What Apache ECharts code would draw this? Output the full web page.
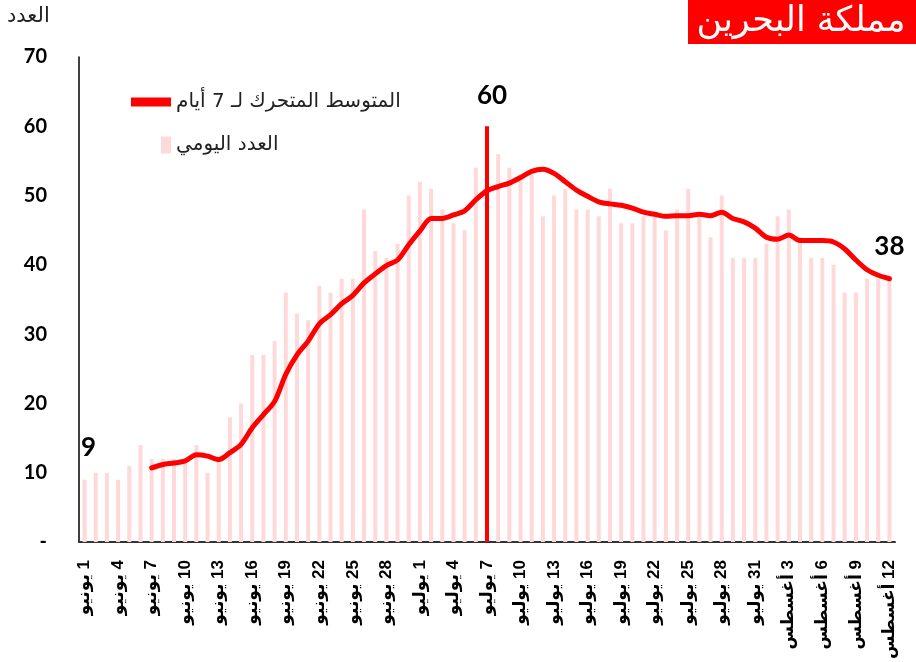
<!DOCTYPE html>
<html>
<head>
<meta charset="utf-8">
<script src="https://cdn.jsdelivr.net/npm/echarts@6/dist/echarts.min.js"></script>
<style>
  html, body { margin: 0; padding: 0; background: #fff; }
  #chart { width: 916px; height: 662px; }
</style>
</head>
<body>
<div id="chart"></div>
<script>
  // أسماء الأشهر وعدد الأيام المعروضة
  var monthNames = ['يونيو', 'يوليو', 'أغسطس']
  var monthDays = [30, 31, 12]

  // العدد اليومي
  var dailyJune = [9, 10, 10, 9, 11, 14, 12, 12, 12, 12, 14, 10, 12, 18, 20, 27, 27, 29, 36, 33, 32, 37, 36, 38, 38, 48, 42, 41, 43, 50]
  var dailyJuly = [52, 51, 48, 46, 45, 54, 60, 56, 54, 53, 53, 47, 50, 51, 48, 48, 47, 51, 46, 46, 47, 47, 45, 48, 51, 47, 44, 50, 41, 41, 41]
  var dailyAug = [43, 47, 48, 44, 41, 41, 40, 36, 36, 38, 38, 38]

  // المتوسط المتحرك لـ 7 أيام (يبدأ من 7 يونيو)
  var avgJune = [null, null, null, null, null, null, 10.7, 11.2, 11.4, 11.7, 12.6, 12.4, 11.9, 12.9, 14.1, 16.5, 18.4, 20.3, 24.2, 27.0, 29.0, 31.5, 32.8, 34.4, 35.6, 37.4, 38.7, 39.9, 40.7, 42.9]
  var avgJuly = [44.9, 46.7, 46.7, 47.2, 47.8, 49.4, 50.7, 51.3, 51.8, 52.6, 53.5, 53.8, 53.2, 52.0, 50.8, 49.9, 49.1, 48.8, 48.6, 48.2, 47.6, 47.3, 47.0, 47.1, 47.1, 47.3, 47.1, 47.6, 46.7, 46.2, 45.3]
  var avgAug = [44.0, 43.7, 44.3, 43.5, 43.5, 43.5, 43.3, 42.3, 40.7, 39.3, 38.5, 38.0]

  var yTicks = [0, 10, 20, 30, 40, 50, 60, 70]

  var lineName = 'المتوسط المتحرك لـ 7 أيام'
  var barName = 'العدد اليومي'

  // \u200F يجعل اتجاه التسمية من اليمين لليسار
  var categories = []
  monthNames.forEach(function (m, i) {
    for (var d = 1; d <= monthDays[i]; d++) {
      categories.push('\u200F' + d + ' ' + m)
    }
  })

  var daily = dailyJune.concat(dailyJuly, dailyAug)
  var avg = avgJune.concat(avgJuly, avgAug)

  var peakIndex = 36      // 7 يوليو
  var lastIndex = daily.length - 1

  var numLabel = {
    show: true,
    position: 'top',
    color: '#000',
    fontFamily: 'Lato',
    fontWeight: 'bold',
    fontSize: 26
  }

  var barData = daily.map(function (v, i) {
    if (i === 0) {
      return { value: v, label: Object.assign({}, numLabel, { offset: [4, -14] }) }
    }
    if (i === peakIndex) {
      return {
        value: v,
        itemStyle: { color: '#ff0000' },
        label: Object.assign({}, numLabel, { offset: [5, -13] })
      }
    }
    if (i === lastIndex) {
      return { value: v, label: Object.assign({}, numLabel, { offset: [0, -14] }) }
    }
    return v
  })

  var myChart = echarts.init(document.getElementById('chart'))

  var option = {
    animation: false,
    grid: {
      left: 79,
      right: 21,
      top: 57,
      bottom: 119,
      containLabel: false
    },
    legend: [
      {
        data: [{ name: lineName, icon: 'rect' }],
        left: 131,
        top: 92,
        padding: 0,
        itemWidth: 40,
        itemHeight: 9,
        selectedMode: false,
        textStyle: {
          color: '#222',
          fontSize: 20,
          fontFamily: 'DejaVu Sans'
        }
      },
      {
        data: [{ name: barName, icon: 'rect' }],
        left: 161,
        top: 135,
        padding: 0,
        itemWidth: 10,
        itemHeight: 17,
        selectedMode: false,
        textStyle: {
          color: '#222',
          fontSize: 20,
          fontFamily: 'DejaVu Sans'
        }
      }
    ],
    xAxis: {
      type: 'category',
      data: categories,
      boundaryGap: true,
      axisLine: {
        show: true,
        lineStyle: { color: '#333', width: 2 }
      },
      axisTick: { show: false },
      axisLabel: {
        interval: 2,
        rotate: 90,
        margin: 18,
        color: '#000',
        fontSize: 17,
        fontWeight: 'bold',
        fontFamily: 'Liberation Sans, DejaVu Sans, sans-serif'
      }
    },
    yAxis: {
      type: 'value',
      min: yTicks[0],
      max: yTicks[yTicks.length - 1],
      interval: 10,
      axisLine: {
        show: true,
        lineStyle: { color: '#000', width: 1.5 }
      },
      axisTick: { show: false },
      splitLine: { show: false },
      axisLabel: {
        margin: 32,
        color: '#000',
        fontSize: 20,
        fontWeight: 'bold',
        fontFamily: 'Lato',
        formatter: function (v) {
          return v === 0 ? '-' : v
        }
      }
    },
    graphic: [
      {
        type: 'rect',
        shape: { x: 688, y: 0, width: 228, height: 44 },
        style: { fill: '#ff0000' }
      },
      {
        type: 'text',
        x: 801,
        y: 22,
        style: {
          text: 'مملكة البحرين',
          fill: '#fff',
          fontSize: 35,
          fontFamily: 'DejaVu Sans',
          align: 'center',
          verticalAlign: 'middle'
        }
      },
      {
        type: 'text',
        x: 7,
        y: 17,
        style: {
          text: 'العدد',
          fill: '#222',
          fontSize: 21,
          fontFamily: 'DejaVu Sans',
          align: 'left',
          verticalAlign: 'middle'
        }
      }
    ],
    series: [
      {
        name: barName,
        type: 'bar',
        barWidth: 4,
        itemStyle: { color: '#ffd9d9' },
        data: barData,
        z: 2
      },
      {
        name: lineName,
        type: 'line',
        smooth: 0.3,
        showSymbol: false,
        connectNulls: false,
        lineStyle: { color: '#ff0000', width: 5, cap: 'round' },
        itemStyle: { color: '#ff0000' },
        data: avg,
        z: 3
      }
    ]
  }

  myChart.setOption(option)
</script>
</body>
</html>
